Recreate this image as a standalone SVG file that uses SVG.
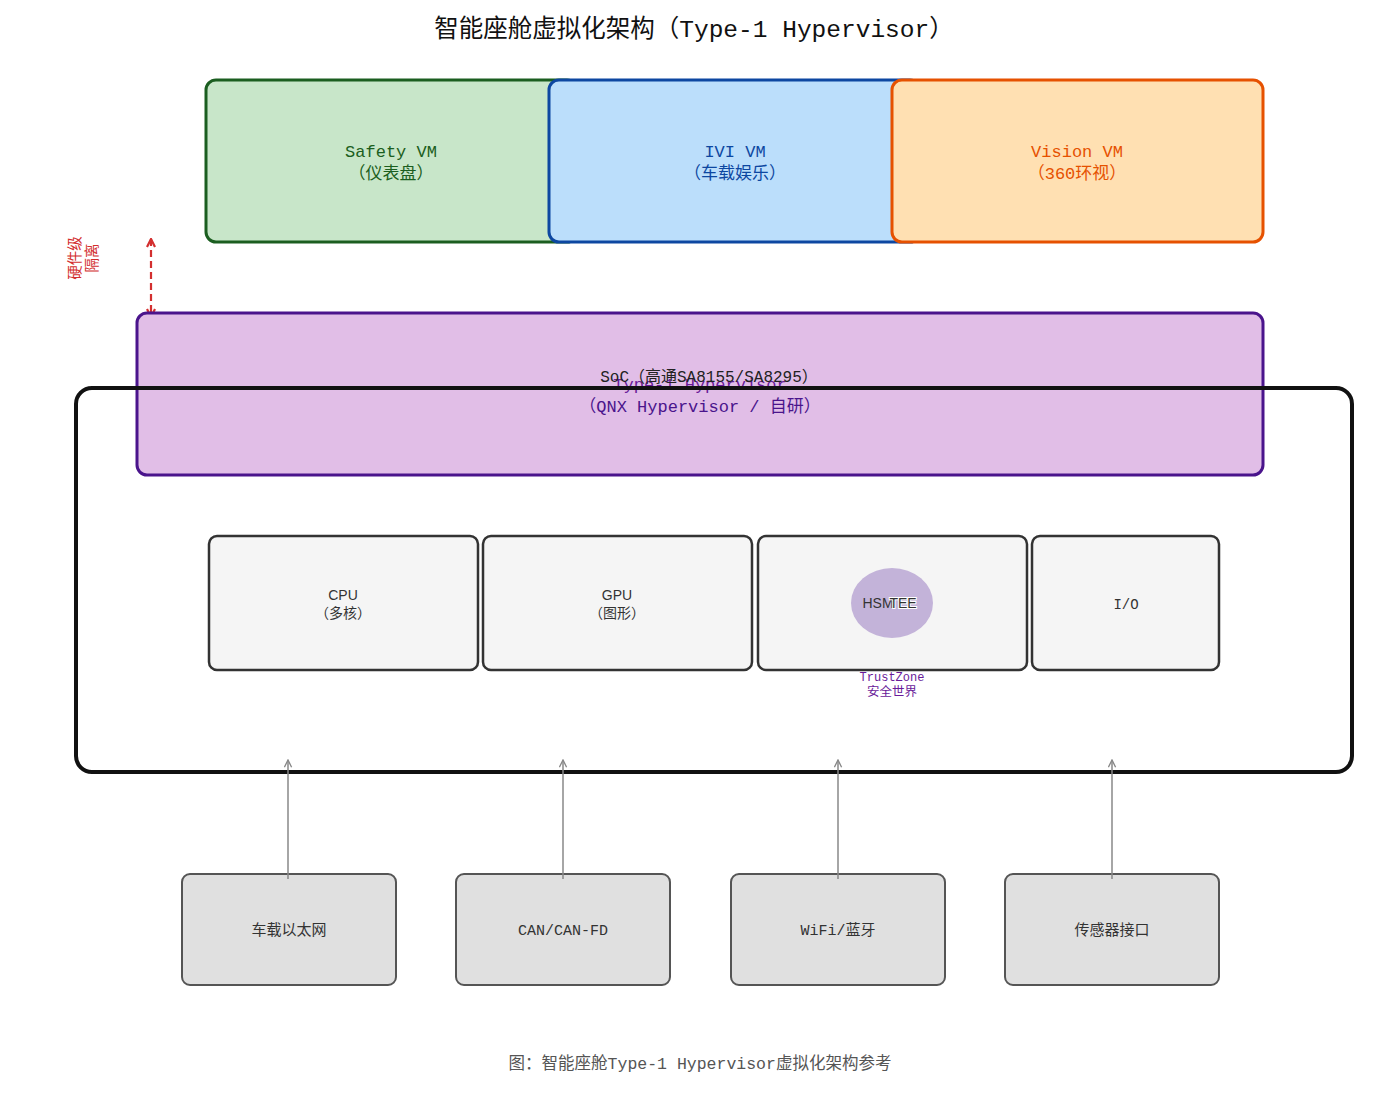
<svg xmlns="http://www.w3.org/2000/svg" width="1400" height="1118" viewBox="0 0 1400 1118">
<style>
.mono{font-family:"Liberation Mono","Noto Sans CJK SC",monospace}
.sans{font-family:"Liberation Sans","Noto Sans CJK SC",sans-serif}
.vm{stroke-width:3}
.hw{fill:#f5f5f5;stroke:#333;stroke-width:2.5}
.io{fill:#e0e0e0;stroke:#555;stroke-width:2}
.lbl{font-size:15px;fill:#333;text-anchor:middle}
.hwl{font-size:14px;fill:#333;text-anchor:middle}
.conn{stroke:#888;stroke-width:1.5;fill:none;marker-end:url(#ah)}
</style>
<defs>
<marker id="ah" viewBox="0 0 10 10" refX="9" refY="5" markerWidth="9" markerHeight="9" orient="auto-start-reverse" markerUnits="userSpaceOnUse">
<path d="M1,1 L9,5 L1,9" fill="none" stroke="#888" stroke-width="1.5"/>
</marker>
<marker id="rh" viewBox="0 0 10 10" refX="9" refY="5" markerWidth="10" markerHeight="10" orient="auto-start-reverse" markerUnits="userSpaceOnUse">
<path d="M1,1 L9,5 L1,9" fill="none" stroke="#d32f2f" stroke-width="2.2"/>
</marker>
</defs>
<rect width="1400" height="1118" fill="#fff"/>
<text x="694" y="37" class="mono" font-size="24.5" fill="#111" text-anchor="middle">智能座舱虚拟化架构（Type-1 Hypervisor）</text>

<g id="safety-vm">
<rect x="206" y="80" width="371" height="162" rx="10" fill="#c8e6c9" stroke="#1b5e20" class="vm"/>
<text x="391" y="157" class="mono" font-size="17" fill="#1b5e20" text-anchor="middle">Safety VM</text>
<text x="391" y="179" class="mono" font-size="17" fill="#1b5e20" text-anchor="middle">（仪表盘）</text>
</g>
<g id="ivi-vm">
<rect x="549" y="80" width="371" height="162" rx="10" fill="#bbdefb" stroke="#0d47a1" class="vm"/>
<text x="735" y="157" class="mono" font-size="17" fill="#0d47a1" text-anchor="middle">IVI VM</text>
<text x="735" y="179" class="mono" font-size="17" fill="#0d47a1" text-anchor="middle">（车载娱乐）</text>
</g>
<g id="vision-vm">
<rect x="892" y="80" width="371" height="162" rx="10" fill="#ffe0b2" stroke="#e65100" class="vm"/>
<text x="1077" y="157" class="mono" font-size="17" fill="#e65100" text-anchor="middle">Vision VM</text>
<text x="1077" y="179" class="mono" font-size="17" fill="#e65100" text-anchor="middle">（360环视）</text>
</g>

<g id="isolation">
<line x1="151" y1="239" x2="151" y2="317" stroke="#d32f2f" stroke-width="2.2" stroke-dasharray="7,4" marker-start="url(#rh)" marker-end="url(#rh)"/>
<text transform="translate(80,258) rotate(-90)" class="sans" font-size="14.5" fill="#d32f2f" text-anchor="middle"><tspan x="0" y="0">硬件级</tspan><tspan x="0" y="17">隔离</tspan></text>
</g>

<g id="hypervisor">
<rect x="137" y="313" width="1126" height="162" rx="10" fill="#e1bee7" stroke="#4a148c" stroke-width="3"/>
<text x="700" y="390" class="mono" font-size="17" fill="#6a1b9a" text-anchor="middle">Type-1 Hypervisor</text>
<text x="700" y="412" class="mono" font-size="17" fill="#4a148c" text-anchor="middle">（QNX Hypervisor / 自研）</text>
</g>

<g id="soc">
<rect x="76" y="388" width="1276" height="384" rx="16" fill="none" stroke="#111" stroke-width="4"/>
<text x="709" y="382" class="mono" font-size="16" fill="#222" text-anchor="middle">SoC（高通SA8155/SA8295）</text>
</g>

<g id="cpu">
<rect x="209" y="536" width="269" height="134" rx="8" class="hw"/>
<text x="343" y="600" class="sans hwl">CPU</text>
<text x="343" y="618" class="sans hwl">（多核）</text>
</g>
<g id="gpu">
<rect x="483" y="536" width="269" height="134" rx="8" class="hw"/>
<text x="617" y="600" class="sans hwl">GPU</text>
<text x="617" y="618" class="sans hwl">（图形）</text>
</g>
<g id="hsm">
<rect x="758" y="536" width="269" height="134" rx="8" class="hw"/>
<ellipse cx="892" cy="603" rx="41" ry="35" fill="#c3b3d9"/>
<text x="878" y="608" class="sans hwl">HSM</text>
<text x="903" y="608" class="sans hwl" stroke="#fff" stroke-width="2" paint-order="stroke">TEE</text>
<text x="892" y="681" class="mono" font-size="12" fill="#6a1b9a" text-anchor="middle">TrustZone</text>
<text x="892" y="696" class="mono" font-size="12.5" fill="#6a1b9a" text-anchor="middle">安全世界</text>
</g>
<g id="io">
<rect x="1032" y="536" width="187" height="134" rx="8" class="hw"/>
<text x="1126" y="609" class="mono hwl">I/O</text>
</g>

<g id="ethernet">
<rect x="182" y="874" width="214" height="111" rx="8" class="io"/>
<text x="289" y="935" class="mono lbl">车载以太网</text>
</g>
<g id="can">
<rect x="456" y="874" width="214" height="111" rx="8" class="io"/>
<text x="563" y="935" class="mono lbl">CAN/CAN-FD</text>
</g>
<g id="wifi">
<rect x="731" y="874" width="214" height="111" rx="8" class="io"/>
<text x="838" y="935" class="mono lbl">WiFi/蓝牙</text>
</g>
<g id="sensor">
<rect x="1005" y="874" width="214" height="111" rx="8" class="io"/>
<text x="1112" y="935" class="mono lbl">传感器接口</text>
</g>

<g id="connectors">
<line x1="288" y1="879" x2="288" y2="760" class="conn"/>
<line x1="563" y1="879" x2="563" y2="760" class="conn"/>
<line x1="838" y1="879" x2="838" y2="760" class="conn"/>
<line x1="1112" y1="879" x2="1112" y2="760" class="conn"/>
</g>

<text x="700" y="1069" class="mono" font-size="16.5" fill="#555" text-anchor="middle">图：智能座舱Type-1 Hypervisor虚拟化架构参考</text>
</svg>
